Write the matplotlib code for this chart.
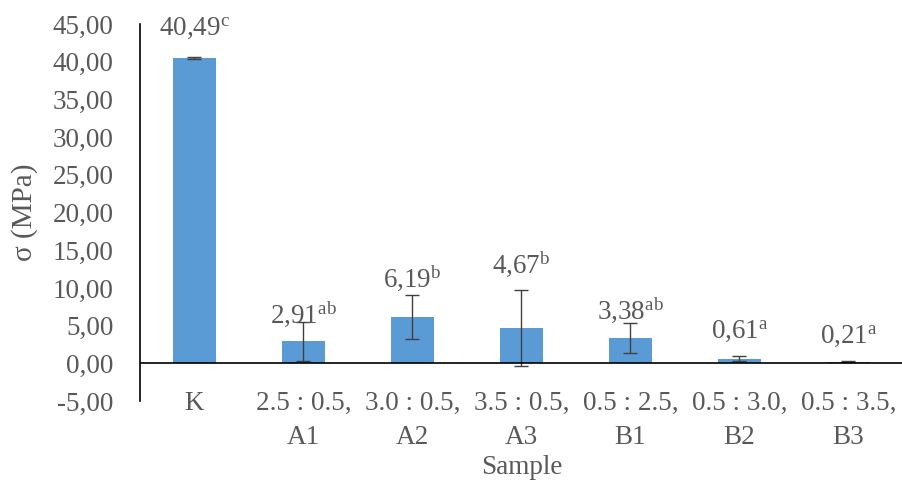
import matplotlib.pyplot as plt
from matplotlib.ticker import FuncFormatter, MultipleLocator

plt.rcParams['font.family'] = ['Liberation Serif', 'DejaVu Serif']
plt.rcParams['mathtext.fontset'] = 'custom'
plt.rcParams['mathtext.rm'] = 'Liberation Serif'
plt.rcParams['mathtext.it'] = 'Liberation Serif'

# data
samples = ["K", "2.5 : 0.5,\nA1", "3.0 : 0.5,\nA2", "3.5 : 0.5,\nA3",
           "0.5 : 2.5,\nB1", "0.5 : 3.0,\nB2", "0.5 : 3.5,\nB3"]
sigma = [40.49, 2.91, 6.19, 4.67, 3.38, 0.61, 0.21]
sigma_err = [0.08, 2.6, 2.9, 5.0, 2.0, 0.36, 0.05]
letters = ["c", "ab", "b", "b", "ab", "a", "a"]

# label offset above bar top (pixels), as placed in the original
label_offsets = [30, 27, 38, 64, 28, 27, 25]

text_col = '#595959'
bar_col = '#5B9BD5'
fs = 19.5

fig = plt.figure(figsize=(9.03, 4.82), dpi=100)
ax = fig.add_axes([0.155, 0.168, 0.845, 0.782])

x = list(range(len(samples)))
ax.bar(x, sigma, width=0.4, color=bar_col, zorder=2)
ax.errorbar(x, sigma, yerr=sigma_err, fmt='none', ecolor='#404040',
            elinewidth=1, capsize=5, capthick=1, zorder=3)
ax.axhline(0, color='black', lw=1.2, zorder=4)

for xi, v, let, off in zip(x, sigma, letters, label_offsets):
    lab = f"{v:.2f}".replace('.', ',') + r"$^{\mathrm{" + let + "}}$"
    ax.annotate(lab, (xi, v), xytext=(0, off * 0.72), textcoords='offset points',
                ha='center', va='center', fontsize=fs, color=text_col)

ax.set_xlim(-0.5, len(samples) - 0.5)
ax.set_ylim(-5, 45)
ax.yaxis.set_major_locator(MultipleLocator(5))
ax.yaxis.set_major_formatter(FuncFormatter(lambda v, p: f"{v:.2f}".replace('.', ',')))
ax.set_xticks(x)
ax.set_xticklabels(samples, linespacing=1.45)

for s in ['top', 'right', 'bottom']:
    ax.spines[s].set_visible(False)
ax.spines['left'].set_color('black')
ax.spines['left'].set_linewidth(1.2)

ax.tick_params(axis='y', length=0, labelsize=fs, labelcolor=text_col, pad=19)
ax.tick_params(axis='x', length=0, labelsize=fs, labelcolor=text_col, pad=-7)

ax.set_ylabel("σ (MPa)", fontsize=21, color=text_col)
ax.yaxis.set_label_coords(-0.134, 0.5)
ax.set_xlabel("Sample", fontsize=fs, color=text_col, labelpad=4)

fig.savefig("out.png", dpi=100)
